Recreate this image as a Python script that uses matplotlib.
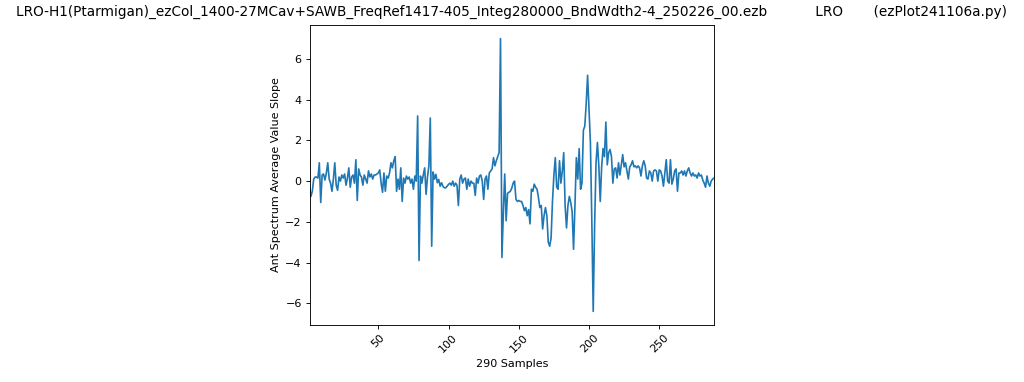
import numpy as np
import matplotlib
matplotlib.use('Agg')
import matplotlib.pyplot as plt

# Title text
title_text = ("LRO-H1(Ptarmigan)_ezCol_1400-27MCav+SAWB_FreqRef1417-405_Integ280000_BndWdth2-4_250226_00.ezb"
              "           LRO       (ezPlot241106a.py)")

# Slope values, samples 1..289
vals_001_050 = [-0.3, -0.75, -0.5, 0.1, 0.2, 0.2, 0.15, 0.9, -1.05, 0.3,
                0.35, 0.05, 0.4, 0.9, 0.1, -0.1, -0.5, 0.1, 0.9, -0.2,
                -0.45, 0.2, 0.0, 0.3, 0.15, 0.35, -0.2, 0.15, 0.65, -0.3,
                0.2, 0.3, -0.1, 1.05, -0.95, 0.6, 0.3, 0.2, -0.2, 0.3,
                0.1, -0.1, 0.5, 0.2, 0.35, 0.1, 0.3, 0.3, 0.35, 0.4]
vals_051_100 = [0.55, -0.1, -0.55, 0.4, -0.5, 0.25, 0.15, 0.4, 0.9, 0.65,
                1.0, 1.2, -0.5, 0.1, -0.4, 0.65, -1.0, 0.15, -0.1, 0.25,
                0.1, 0.2, -0.1, 0.1, -0.4, 0.25, 0.0, 3.2, -3.9, 0.25,
                -0.1, 0.3, 0.65, -0.65, 0.2, 0.75, 3.1, -3.2, 0.45, 0.1,
                0.33, -0.08, 0.08, -0.25, -0.08, -0.25, -0.33, -0.33, -0.25, -0.16]
vals_101_150 = [-0.1, -0.2, 0.0, -0.25, -0.1, -0.2, -1.2, 0.1, 0.3, -0.1,
                0.1, 0.15, -0.4, 0.1, -0.25, 0.0, -0.1, -0.1, -0.7, 0.15,
                -0.1, 0.25, 0.3, 0.0, -0.9, 0.1, 0.25, -0.4, 0.4, 0.5,
                0.6, 1.15, 0.75, 1.0, 1.2, 1.4, 7.0, -3.75, -1.6, 0.35,
                -1.95, -0.6, -0.55, -0.5, -0.35, -0.1, 0.0, -0.9, -1.0, -0.95]
vals_151_200 = [-1.0, -1.0, -1.2, -1.45, -1.3, -1.7, -1.4, -2.1, -0.4, -0.5,
                -0.15, -0.3, -0.4, -0.8, -1.3, -1.2, -2.35, -1.7, -1.3, -1.7,
                -3.0, -3.2, -2.8, -1.0, 0.3, 1.15, -0.3, -0.4, 1.0, -0.1,
                0.5, 1.4, -1.2, -2.3, -1.2, -0.75, -1.05, -1.5, -3.35, -1.2,
                1.15, 0.1, 1.6, -0.4, -0.1, 2.5, 2.7, 3.8, 5.2, 3.5]
vals_201_250 = [1.9, -1.9, -6.4, -2.2, 0.9, 1.9, 0.75, -1.0, 0.7, 1.6,
                1.2, 2.9, 0.8, 1.4, 1.55, 1.2, -0.1, 0.6, 0.65, 0.15,
                0.9, 0.3, 0.8, 1.3, 0.7, 0.9, 0.5, 0.1, 0.7, 0.8,
                1.0, 0.7, 0.75, 0.65, 0.75, 0.65, 0.25, 0.75, 1.0, 0.75,
                0.15, 0.1, 0.5, 0.4, 0.0, 0.5, 0.55, 0.5, 0.0, 0.55]
vals_251_289 = [0.5, 0.25, -0.25, 0.4, 1.05, 0.0, -0.1, 1.05, -0.15, 0.1,
                0.5, 0.6, -0.5, 0.4, 0.4, 0.5, 0.3, 0.5, 0.25, 0.5,
                0.65, 0.4, 0.25, 0.4, 0.25, 0.3, 0.15, 0.4, 0.25, 0.3,
                0.05, -0.1, -0.3, 0.25, -0.1, -0.25, 0.0, 0.1, 0.15]

y = np.array(vals_001_050 + vals_051_100 + vals_101_150 +
             vals_151_200 + vals_201_250 + vals_251_289)
x = np.arange(1, len(y) + 1)

fig = plt.figure(figsize=(10.24, 3.82), dpi=100)
ax = fig.add_axes([309.5 / 1024, 57 / 382, 404.5 / 1024, 300 / 382])

ax.plot(x, y, color='#1f77b4', linewidth=1.2)
ax.set_xlim(1, len(y))

ax.set_xlabel('290 Samples', fontsize=8, labelpad=3.2)
ax.set_ylabel('Ant Spectrum Average Value Slope', fontsize=8, labelpad=3.2)
ax.tick_params(labelsize=8, length=2.8, width=0.64, pad=2.8)
plt.setp(ax.get_xticklabels(), rotation=45)
for sp in ax.spines.values():
    sp.set_linewidth(0.64)

fig.text(0.5, 1 - 12 / 382, title_text, ha='center', va='center', fontsize=9.8)

fig.savefig('out.png', dpi=100)
